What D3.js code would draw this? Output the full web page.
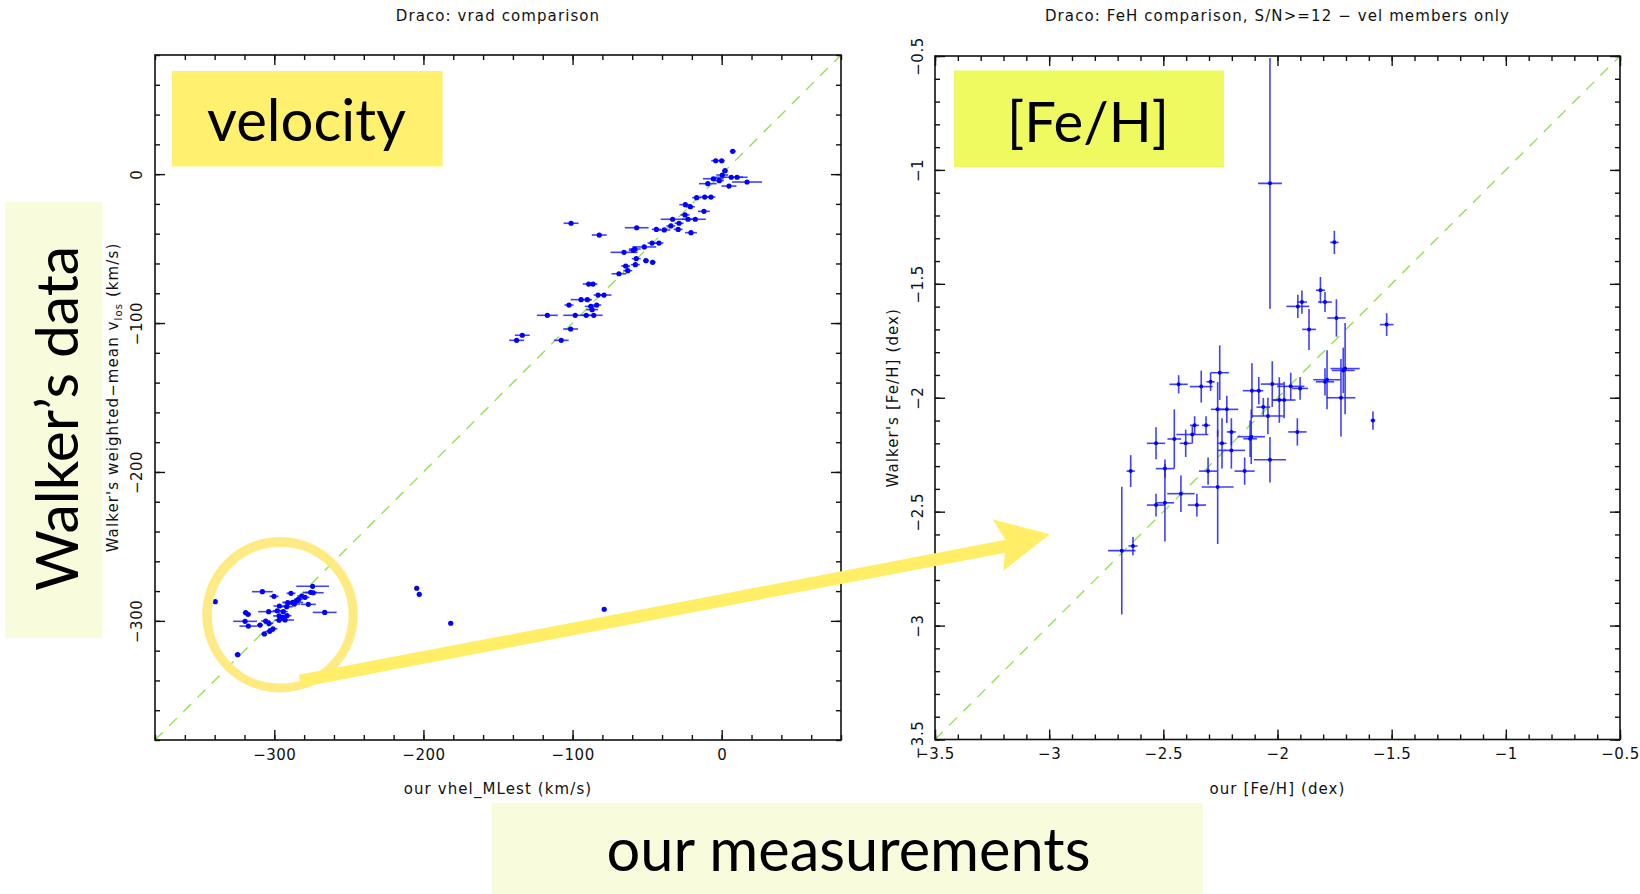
<!DOCTYPE html>
<html>
<head>
<meta charset="utf-8">
<script src="https://cdn.jsdelivr.net/npm/d3@7"></script>
<style>
  html, body { margin: 0; padding: 0; background: #fff; }
  svg { display: block; }
</style>
</head>
<body>
<svg id="chart" width="1640" height="894"></svg>
<script>
// ---------- Draco: radial velocity, our ML estimate vs Walker's weighted mean (km/s)
const velOurs = [
  7.4, -4.0, 0.0, 2.2, 0.4, 6.4, 10.3, -5.6, -1.6, 17.0, -9.3, 4.9,
  -16.8, -11.4, -7.2, -24.4, -21.0, -11.9, -32.9, -22.6, -17.7, -24.6, -28.6, -34.1,
  -29.2, -38.5, -43.8, -20.6, -57.0, -101.0, -82.1, -42.1, -46.7, -51.9, -58.3, -59.3,
  -65.5, -57.3, -50.8, -46.3, -57.9, -64.4, -63.0, -68.9, -89.2, -86.3, -82.9, -78.9,
  -94.3, -90.1, -102.4, -83.8, -87.8, -86.9, -116.9, -98.2, -90.8, -85.8, -101.3, -133.7,
  -137.5, -107.6,
  -339.6, -324.6, -308.0, -300.2, -288.8, -274.3, -273.9, -281.6, -283.9, -291.0, -277.2, -296.6,
  -303.8, -298.0, -294.0, -266.2, -319.2, -317.6, -296.8, -291.5, -319.6, -305.8, -303.6, -296.8,
  -292.8, -309.6, -317.4, -300.9, -303.1, -306.7, -294.4, -291.7, -286.6, -285.0, -287.7, -279.4,
  -275.6,
  -204.5, -202.8, -181.7, -78.8
];
const velWalker = [
  15.3, 9.0, 9.0, 2.3, -0.6, -2.1, -2.1, -3.1, -4.4, -5.3, -6.4, -8.0,
  -15.8, -15.4, -15.4, -20.5, -21.9, -25.0, -30.3, -30.3, -30.3, -27.4, -33.0, -34.8,
  -37.1, -37.5, -37.1, -39.3, -36.0, -33.0, -40.9, -46.3, -46.3, -48.9, -50.3, -51.2,
  -52.5, -56.8, -58.1, -59.2, -60.8, -61.7, -64.8, -66.9, -73.8, -73.8, -81.2, -81.2,
  -84.3, -84.3, -87.9, -87.9, -88.8, -91.0, -94.8, -94.8, -94.8, -94.8, -104.0, -108.2,
  -111.6, -111.6,
  -287.1, -322.7, -280.4, -283.5, -281.5, -276.8, -281.1, -283.3, -285.5, -287.8, -288.9, -290.0,
  -293.8, -293.2, -293.8, -294.3, -294.5, -295.6, -296.7, -296.5, -300.3, -300.1, -301.7, -299.6,
  -299.4, -302.8, -303.5, -305.3, -307.0, -308.8, -297.6, -290.5, -288.7, -286.5, -287.6, -284.2,
  -280.8,
  -278.1, -282.2, -301.6, -292.2
];
const velOursErr = [
  2, 3, 2, 2, 4, 11, 4, 7, 3, 10, 6, 5,
  3, 3, 3, 4, 3, 4, 8, 4, 7, 3, 3, 3,
  3, 4, 3, 4, 8, 5, 5, 3, 3, 8, 4, 3,
  9, 3, 2, 2, 3, 3, 3, 5, 4, 3, 3, 5,
  7, 3, 3, 3, 4, 4, 7, 8, 3, 6, 5, 5,
  5, 5,
  0, 2, 7, 3, 3, 11, 7, 3, 3, 3, 5, 4,
  7, 3, 3, 8, 2, 2, 4, 3, 8, 3, 3, 3,
  6, 2, 6, 3, 3, 2, 3, 4, 4, 3, 7, 3,
  4,
  0, 0, 0, 0
];

// ---------- Draco: [Fe/H], S/N >= 12, velocity members only (dex)
const fehOurs = [
  -2.033, -1.751, -1.812, -1.893, -1.911, -1.792, -1.742, -1.862, -1.522, -1.704,
  -1.712, -1.783, -1.792, -1.722, -2.253, -2.293, -2.334, -2.433, -2.112, -2.082,
  -2.023, -1.942, -1.901, -1.992, -1.971, -2.062, -2.262, -2.222, -2.042, -1.913,
  -2.033, -2.115, -2.120, -2.202, -2.243, -2.202, -2.304, -2.262, -2.144, -2.313,
  -2.363, -2.373, -2.402, -2.452, -2.532, -2.493, -2.643, -2.423, -2.532, -2.493,
  -2.353, -2.682, -2.633, -1.582
];
const fehWalker = [
  -1.059, -1.318, -1.528, -1.580, -1.599, -1.580, -1.650, -1.700, -1.679, -1.872,
  -1.880, -1.921, -1.930, -2.000, -1.890, -1.930, -1.951, -1.941, -1.969, -1.969,
  -1.940, -1.950, -1.959, -2.010, -2.010, -2.041, -2.051, -2.051, -2.080, -2.150,
  -2.272, -2.171, -2.180, -2.150, -2.200, -2.231, -2.322, -2.392, -2.322, -2.121,
  -2.121, -2.161, -2.200, -2.181, -2.200, -2.311, -2.322, -2.421, -2.471, -2.461,
  -2.471, -2.671, -2.651, -2.100
];
const fehOursErr = [
  0.052, 0.018, 0.020, 0.022, 0.050, 0.030, 0.040, 0.030, 0.030, 0.064,
  0.050, 0.060, 0.040, 0.063, 0.040, 0.018, 0.050, 0.040, 0.040, 0.020,
  0.050, 0.060, 0.035, 0.030, 0.050, 0.030, 0.030, 0.050, 0.070, 0.040,
  0.070, 0.060, 0.030, 0.020, 0.020, 0.060, 0.040, 0.070, 0.044, 0.018,
  0.020, 0.070, 0.026, 0.030, 0.040, 0.040, 0.018, 0.060, 0.040, 0.040,
  0.040, 0.060, 0.020, 0.010
];
const fehWalkerErr = [
  0.550, 0.051, 0.058, 0.051, 0.051, 0.044, 0.082, 0.090, 0.050, 0.200,
  0.100, 0.130, 0.060, 0.170, 0.120, 0.040, 0.070, 0.040, 0.120, 0.060,
  0.100, 0.060, 0.050, 0.100, 0.080, 0.040, 0.120, 0.060, 0.080, 0.060,
  0.100, 0.120, 0.080, 0.060, 0.110, 0.080, 0.060, 0.250, 0.060, 0.040,
  0.040, 0.040, 0.060, 0.130, 0.070, 0.040, 0.070, 0.080, 0.050, 0.170,
  0.050, 0.280, 0.040, 0.040
];

// ---------- axis ticks
const velDomain = [-380, 80];
const velMajorTicks = [-300, -200, -100, 0];
const velMinorTicks = d3.range(-380, 81, 20);
const fehDomain = [-3.5, -0.5];
const fehMajorTicks = [-3.5, -3, -2.5, -2, -1.5, -1, -0.5];
const fehMinorTicks = d3.range(-35, -4).map(d => d / 10);

const svg = d3.select("#chart");
svg.append("rect").attr("width", 1640).attr("height", 894).attr("fill", "#fff");

const AX_FONT = "'DejaVu Sans', sans-serif";
const INK = "#111";

function drawFrame(g, x, y, major, minor, fmt, labelPadY) {
  const [xl, xr] = x.range();
  const [yb, yt] = y.range();
  const axes = [
    { gen: d3.axisBottom, s: x, t: `translate(0,${yb})`, lab: true },
    { gen: d3.axisTop,    s: x, t: `translate(0,${yt})`, lab: false },
    { gen: d3.axisLeft,   s: y, t: `translate(${xl},0)`, lab: true, rot: true },
    { gen: d3.axisRight,  s: y, t: `translate(${xr},0)`, lab: false }
  ];
  axes.forEach(a => {
    const gm = g.append("g").attr("transform", a.t)
      .call(a.gen(a.s).tickValues(minor).tickSize(-5).tickSizeOuter(0).tickFormat(""));
    gm.select(".domain").remove();
    const gM = g.append("g").attr("transform", a.t)
      .call(a.gen(a.s).tickValues(major).tickSize(-10).tickSizeOuter(0)
        .tickPadding(9).tickFormat(a.lab ? fmt : ""));
    gM.select(".domain").remove();
    [gm, gM].forEach(s => s.selectAll("line").attr("stroke", INK).attr("stroke-width", 1.4));
    gM.attr("font-family", AX_FONT).attr("font-size", 15);
    gM.selectAll("text").attr("fill", INK).attr("letter-spacing", 0.5);
    if (a.rot) {
      gM.selectAll("text")
        .attr("x", 0).attr("y", 0).attr("dy", null)
        .attr("text-anchor", "middle")
        .attr("transform", `translate(${-labelPadY},0) rotate(-90)`);
    }
  });
  g.append("rect")
    .attr("x", xl).attr("y", yt).attr("width", xr - xl).attr("height", yb - yt)
    .attr("fill", "none").attr("stroke", INK).attr("stroke-width", 1.6);
}

function drawPanel(opt) {
  const g = svg.append("g");
  const x = d3.scaleLinear().domain(opt.domain).range([opt.left, opt.right]);
  const y = d3.scaleLinear().domain(opt.domain).range([opt.bottom, opt.top]);
  const clipId = "clip-" + opt.id;
  g.append("clipPath").attr("id", clipId).append("rect")
    .attr("x", opt.left).attr("y", opt.top)
    .attr("width", opt.right - opt.left).attr("height", opt.bottom - opt.top);
  const plot = g.append("g").attr("clip-path", `url(#${clipId})`);

  // one-to-one line
  plot.append("line")
    .attr("x1", x(opt.domain[0])).attr("y1", y(opt.domain[0]))
    .attr("x2", x(opt.domain[1])).attr("y2", y(opt.domain[1]))
    .attr("stroke", "#8fe04a").attr("stroke-width", 1.3).attr("stroke-dasharray", "11,9");

  const pts = opt.xs.map((v, i) => ({ x: v, y: opt.ys[i], ex: opt.xerr[i], ey: opt.yerr ? opt.yerr[i] : 0 }));

  plot.append("g").selectAll("line.ex").data(pts.filter(d => d.ex > 0)).join("line")
    .attr("x1", d => x(d.x - d.ex)).attr("x2", d => x(d.x + d.ex))
    .attr("y1", d => y(d.y)).attr("y2", d => y(d.y))
    .attr("stroke", "#1f1fff").attr("stroke-opacity", 0.85).attr("stroke-width", 1.6);
  plot.append("g").selectAll("line.ey").data(pts.filter(d => d.ey > 0)).join("line")
    .attr("x1", d => x(d.x)).attr("x2", d => x(d.x))
    .attr("y1", d => y(d.y - d.ey)).attr("y2", d => y(d.y + d.ey))
    .attr("stroke", "#1f1fff").attr("stroke-opacity", 0.85).attr("stroke-width", 1.6);
  plot.append("g").selectAll("circle").data(pts).join("circle")
    .attr("cx", d => x(d.x)).attr("cy", d => y(d.y)).attr("r", opt.r)
    .attr("fill", "#0000ff");

  drawFrame(g, x, y, opt.major, opt.minor, opt.fmt, opt.labelPadY);

  const cx = (opt.left + opt.right) / 2;
  const cy = (opt.top + opt.bottom) / 2;
  const txt = (s) => s.attr("font-family", AX_FONT).attr("font-size", 15)
    .attr("letter-spacing", 1.1).attr("fill", INK);

  g.append("text").attr("x", cx).attr("y", 21).attr("text-anchor", "middle")
    .call(txt).text(opt.title);
  g.append("text").attr("x", cx).attr("y", 794).attr("text-anchor", "middle")
    .call(txt).text(opt.xTitle);
  const yt = g.append("text").attr("text-anchor", "middle")
    .attr("transform", `translate(${opt.yTitleX},${cy}) rotate(-90)`).call(txt);
  opt.yTitle(yt);
  return { x, y };
}

const fmtVel = d3.format("");
const fmtFeh = d3.format("");

drawPanel({
  id: "vel", domain: velDomain, left: 155, right: 841, top: 55, bottom: 740,
  xs: velOurs, ys: velWalker, xerr: velOursErr, yerr: null, r: 2.6,
  major: velMajorTicks, minor: velMinorTicks, fmt: fmtVel, labelPadY: 13,
  title: "Draco: vrad comparison",
  xTitle: "our vhel_MLest (km/s)",
  yTitleX: 118,
  yTitle: t => {
    t.append("tspan").text("Walker's weighted\u2212mean v");
    t.append("tspan").attr("font-size", 10).attr("dy", 4).text("los");
    t.append("tspan").attr("dy", -4).text(" (km/s)");
  }
});

drawPanel({
  id: "feh", domain: fehDomain, left: 935, right: 1620, top: 56, bottom: 739.5,
  xs: fehOurs, ys: fehWalker, xerr: fehOursErr, yerr: fehWalkerErr, r: 2.0,
  major: fehMajorTicks, minor: fehMinorTicks, fmt: fmtFeh, labelPadY: 12,
  title: "Draco: FeH comparison, S/N>=12 \u2212 vel members only",
  xTitle: "our [Fe/H] (dex)",
  yTitleX: 898,
  yTitle: t => t.text("Walker's [Fe/H] (dex)")
});

// ---------- slide annotations
const NOTE_FONT = "Lato, 'Open Sans', sans-serif";
function fit(sel, width) {
  sel.attr("font-size", 50);
  const w = sel.node().getComputedTextLength();
  sel.attr("font-size", 50 * width / w);
  return sel;
}
const notes = svg.append("g");

notes.append("rect").attr("x", 172).attr("y", 71).attr("width", 270.6).attr("height", 95.5)
  .attr("fill", "#fff06e");
notes.append("text").attr("x", 207).attr("y", 141).attr("font-family", NOTE_FONT)
  .attr("fill", "#000").text("velocity").call(fit, 199);

notes.append("rect").attr("x", 954).attr("y", 70.5).attr("width", 270).attr("height", 96.5)
  .attr("fill", "#eefa5f");
notes.append("text").attr("x", 1007).attr("y", 142).attr("font-family", NOTE_FONT)
  .attr("fill", "#000").text("[Fe/H]").call(fit, 162);

notes.append("rect").attr("x", 5).attr("y", 202).attr("width", 97.5).attr("height", 436)
  .attr("fill", "#f8fcdc");
notes.append("text").attr("transform", "translate(78,591) rotate(-90)")
  .attr("font-family", NOTE_FONT).attr("fill", "#000")
  .text("Walker\u2019s data").call(fit, 345);

notes.append("rect").attr("x", 491.6).attr("y", 803).attr("width", 711.2).attr("height", 91)
  .attr("fill", "#f8fcdc");
notes.append("text").attr("x", 606.6).attr("y", 871).attr("font-family", NOTE_FONT)
  .attr("fill", "#000").text("our measurements").call(fit, 484);

// hand-drawn style ring round the metal-poor clump
const ring = notes.append("g").attr("fill", "none");
[[280, 615, 73, 9, 0.9], [279, 614, 75, 3, 0.6], [281, 616, 70.5, 3, 0.6], [280.5, 614.5, 77, 1.5, 0.45]]
  .forEach(([cx, cy, r, w, o]) => ring.append("circle")
    .attr("cx", cx).attr("cy", cy).attr("r", r)
    .attr("stroke", "#ffe97c").attr("stroke-width", w).attr("stroke-opacity", o));

// arrow from the ring to the [Fe/H] panel
notes.append("line").attr("x1", 300).attr("y1", 681).attr("x2", 1012).attr("y2", 545)
  .attr("stroke", "#ffee66").attr("stroke-width", 12.5);
notes.append("path")
  .attr("d", "M1050,534.3 L992.7,519.3 L1006,541 L1003.3,570.7 Z")
  .attr("fill", "#ffee66");
</script>
</body>
</html>
